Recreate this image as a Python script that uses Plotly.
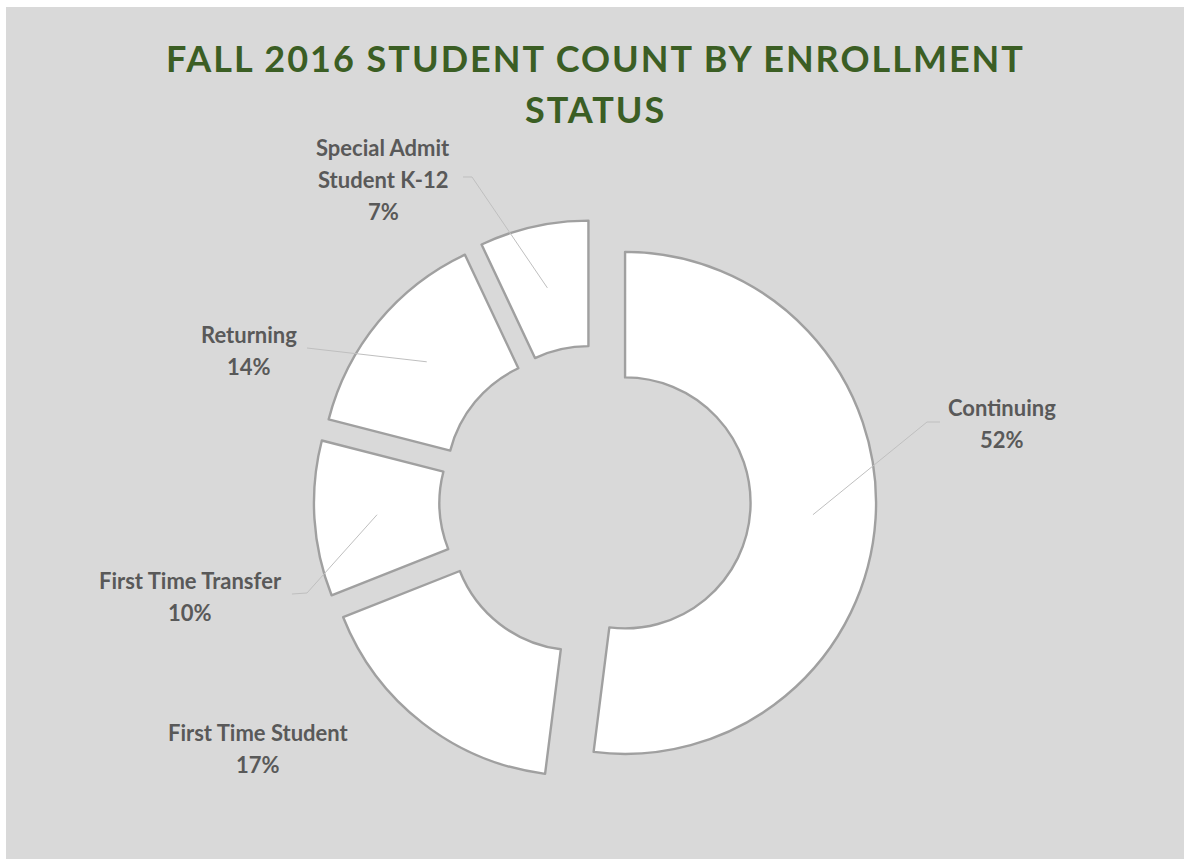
import math
import plotly.graph_objects as go

# Fall 2016 enrollment status shares (percent of student count)
categories = ["Continuing", "First Time Student", "First Time Transfer",
              "Returning", "Special Admit Student K-12"]
shares = [52, 17, 10, 14, 7]
label_lines = [["Continuing"], ["First Time Student"], ["First Time Transfer"],
               ["Returning"], ["Special Admit", "Student K-12"]]

TITLE_LINES = ["FALL 2016 STUDENT COUNT BY ENROLLMENT", "STATUS"]

# ---- page geometry (pixels) ----
W, H = 1184, 859
ML, MT = 6, 7                       # thin white strip at top/left
PW, PH = W - ML, H - MT
CX, CY = 595, 501                   # donut centre
R_OUT = 251                         # outer radius
HOLE = 0.5
PULL = 0.12                         # every slice pushed out


def paper(x, y):
    return (x - ML) / PW, (H - y) / PH


box = 2 * R_OUT * (1 + PULL)
x0, y1 = paper(CX - box / 2, CY - box / 2)
x1, y0 = paper(CX + box / 2, CY + box / 2)

BG = "#d9d9d9"
TEXT = "#595959"
LEADER = "#bfbfbf"
TITLE_C = "#3b5e24"

fig = go.Figure(go.Pie(
    labels=categories,
    values=shares,
    sort=False,
    direction="clockwise",
    rotation=0,
    hole=HOLE,
    pull=[PULL] * len(shares),
    marker=dict(colors=["#ffffff"] * len(shares),
                line=dict(color="#a0a0a0", width=2.4)),
    textinfo="none",
    hoverinfo="label+percent",
    showlegend=False,
    domain=dict(x=[x0, x1], y=[y0, y1]),
))

# label placement: centre of text block and optional leader elbow / end
label_pos = {
    "Continuing": dict(cx=1002, top=407, elbow=(927, 422), end=(940, 422)),
    "First Time Student": dict(cx=258, top=732, elbow=None, end=None),
    "First Time Transfer": dict(cx=190, top=580, elbow=(307, 593), end=(292, 594)),
    "Returning": dict(cx=249, top=334, elbow=None, end=(307, 348)),
    "Special Admit Student K-12": dict(cx=383, top=147, elbow=(472, 177), end=(463, 177)),
}
LINE_GAP = 32

annotations = []
shapes = [dict(type="rect", xref="paper", yref="paper", x0=0, x1=1, y0=0, y1=1,
               fillcolor=BG, line=dict(width=0), layer="below")]

total = sum(shares)
start = 0.0
for cat, val, lines in zip(categories, shares, label_lines):
    frac = val / total
    mid = (start + frac / 2) * 2 * math.pi     # clockwise from 12 o'clock
    start += frac
    pos = label_pos[cat]
    rows = lines + [f"{round(100 * frac)}%"]
    for i, row in enumerate(rows):
        ax, ay = paper(pos["cx"], pos["top"] + i * LINE_GAP)
        annotations.append(dict(
            x=ax, y=ay, xref="paper", yref="paper", text=row, showarrow=False,
            xanchor="center", yanchor="middle",
            font=dict(family="Lato", size=22, color=TEXT, weight="bold")))
    if pos["end"] is None:
        continue
    # leader starts mid-ring on the slice bisector of the pulled slice
    pcx = CX + PULL * R_OUT * math.sin(mid)
    pcy = CY - PULL * R_OUT * math.cos(mid)
    rm = R_OUT * (1 + HOLE) / 2
    sx, sy = pcx + rm * math.sin(mid), pcy - rm * math.cos(mid)
    pts = [(sx, sy)]
    if pos["elbow"]:
        pts.append(pos["elbow"])
    pts.append(pos["end"])
    path = ""
    for j, (px, py) in enumerate(pts):
        u, v = paper(px, py)
        path += ("M" if j == 0 else "L") + f"{u:.5f},{v:.5f} "
    shapes.append(dict(type="path", xref="paper", yref="paper", path=path,
                       line=dict(color=LEADER, width=1)))

for i, t in enumerate(TITLE_LINES):
    tx, ty = paper(595, 58 + i * 51)
    annotations.append(dict(
        x=tx, y=ty, xref="paper", yref="paper", showarrow=False,
        text=f"<span style='letter-spacing:2px'>{t}</span>",
        xanchor="center", yanchor="middle",
        font=dict(family="Lato", size=36, color=TITLE_C, weight="bold")))

fig.update_layout(
    width=W, height=H,
    margin=dict(l=ML, t=MT, r=0, b=0, pad=0),
    paper_bgcolor="#ffffff",
    shapes=shapes,
    annotations=annotations,
)

fig.write_html("out.html")
